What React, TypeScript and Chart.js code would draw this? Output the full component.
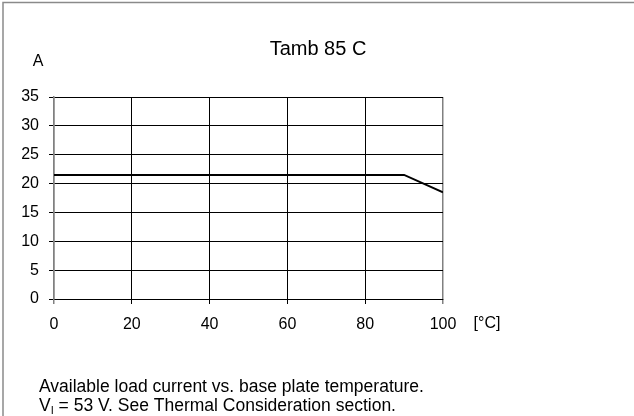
import React, { useEffect, useRef } from "react";
import { Chart, registerables } from "chart.js";

Chart.register(...registerables);

const temps: number[] = [0, 90, 100];
const current: number[] = [21.5, 21.5, 18.5];
const xTicks: number[] = [0, 20, 40, 60, 80, 100];
const yTicks: number[] = [0, 5, 10, 15, 20, 25, 30, 35];
const titleText = "Tamb 85 C";
const yUnit = "A";
const xUnit = "[°C]";
const captionLine1 = "Available load current vs. base plate temperature.";
const captionLine2Parts = ["V", "I", " = 53 V. See Thermal Consideration section."];

const FONT = "Arial, 'Liberation Sans', Helvetica, sans-serif";

const decorPlugin = {
  id: "decor",
  afterDraw(chart: any) {
    const ctx = chart.ctx as CanvasRenderingContext2D;
    ctx.save();
    // frame lines (top and left)
    ctx.strokeStyle = "#8a8a8a";
    ctx.lineWidth = 1.5;
    ctx.beginPath();
    ctx.moveTo(3, 416);
    ctx.lineTo(3, 2.5);
    ctx.lineTo(634, 2.5);
    ctx.stroke();

    ctx.fillStyle = "#000";
    ctx.textBaseline = "middle";
    ctx.textAlign = "center";
    ctx.font = `20px ${FONT}`;
    ctx.fillText(titleText, 318, 49);
    ctx.font = `16px ${FONT}`;
    ctx.fillText(yUnit, 38, 62);
    ctx.fillText(xUnit, 487, 324);

    ctx.textAlign = "left";
    ctx.textBaseline = "alphabetic";
    ctx.font = `17.5px ${FONT}`;
    ctx.fillText(captionLine1, 39, 392);
    let x = 39;
    const base = 411;
    ctx.fillText(captionLine2Parts[0], x, base);
    x += ctx.measureText(captionLine2Parts[0]).width;
    ctx.font = `11px ${FONT}`;
    ctx.fillText(captionLine2Parts[1], x, base + 3);
    x += ctx.measureText(captionLine2Parts[1]).width;
    ctx.font = `17.5px ${FONT}`;
    ctx.fillText(captionLine2Parts[2], x, base);
    ctx.restore();
  },
};

export default function App() {
  const ref = useRef<HTMLCanvasElement | null>(null);
  useEffect(() => {
    if (!ref.current) return;
    const chart = new Chart(ref.current, {
      type: "line",
      data: {
        datasets: [
          {
            data: temps.map((t, i) => ({ x: t, y: current[i] })),
            borderColor: "#000",
            borderWidth: 2,
            pointRadius: 0,
            tension: 0,
            fill: false,
          },
        ],
      },
      options: {
        animation: false,
        responsive: false,
        maintainAspectRatio: false,
        layout: { padding: { left: 0, top: 97, right: 191, bottom: 0 } },
        plugins: { legend: { display: false }, title: { display: false }, tooltip: { enabled: false } },
        scales: {
          x: {
            type: "linear",
            min: 0,
            max: 100,
            afterBuildTicks: (s: any) => {
              s.ticks = xTicks.map((v) => ({ value: v }));
            },
            afterFit: (s: any) => {
              s.height = 117;
            },
            ticks: {
              color: "#000",
              font: { size: 16, family: FONT },
              padding: 11,
              maxRotation: 0,
            },
            grid: {
              color: (c: any) => (c.tick && (c.tick.value === 0 || c.tick.value === 100) ? "#808080" : "#000"),
              lineWidth: (c: any) => (c.tick && (c.tick.value === 0 || c.tick.value === 100) ? 1.5 : 1),
              tickLength: 5,
              drawTicks: true,
            },
            border: { display: true, color: "#000", width: 1 },
          },
          y: {
            type: "linear",
            min: 0,
            max: 35,
            afterBuildTicks: (s: any) => {
              s.ticks = yTicks.map((v) => ({ value: v }));
            },
            afterFit: (s: any) => {
              s.width = 54;
            },
            ticks: {
              color: "#000",
              font: { size: 16, family: FONT },
              padding: 10,
            },
            grid: { color: "#000", lineWidth: 1, tickLength: 5, drawTicks: true },
            border: { display: true, color: "#808080", width: 1.5 },
          },
        },
      },
      plugins: [decorPlugin],
    } as any);
    return () => chart.destroy();
  }, []);
  return (
    <div style={{ position: "absolute", left: 0, top: 0, width: 634, height: 416, background: "#fff" }}>
      <canvas ref={ref} width={634} height={416} style={{ display: "block", width: 634, height: 416 }} />
    </div>
  );
}
